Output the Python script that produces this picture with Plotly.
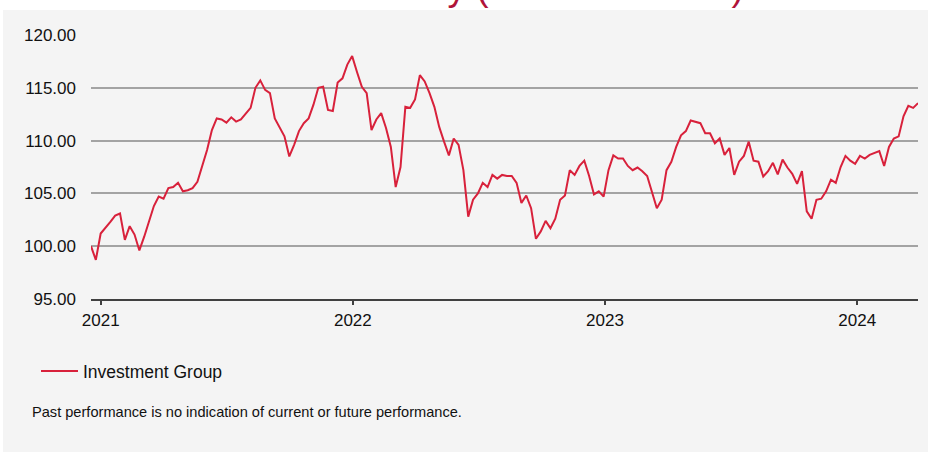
import plotly.graph_objects as go
import pandas as pd

# ---------------- data ----------------
start_date = "2020-12-18"
values = [
    100.0, 98.7, 101.2, 101.7, 102.3, 102.9, 103.1, 100.6, 101.9, 101.1,
    99.6, 100.9, 102.3, 103.8, 104.7, 104.5, 105.5, 105.6, 106.0, 105.2,
    105.3, 105.5, 106.1, 107.5, 109.1, 111.0, 112.1, 112.0, 111.7, 112.2,
    111.8, 112.0, 112.5, 113.1, 115.0, 115.7, 114.8, 114.5, 112.1, 111.2,
    110.4, 108.5, 109.6, 110.9,
    111.65, 112.1, 113.4, 115.0, 115.1, 112.9, 112.8, 115.5, 115.9, 117.2,
    118.0, 116.5, 115.1, 114.5, 111.0, 112.0, 112.6, 111.2, 109.4, 105.6,
    107.5, 113.2, 113.1, 113.9, 116.2, 115.6, 114.5, 113.2, 111.3, 109.9,
    108.6, 110.2, 109.6, 107.2, 102.8, 104.4, 105.0, 106.0, 105.6, 106.75,
    106.4, 106.75,
    106.65, 106.65, 106.0, 104.1, 104.8, 103.6, 100.7, 101.4, 102.4, 101.7,
    102.6, 104.4, 104.8, 107.2, 106.75, 107.6, 108.1, 106.65, 104.9, 105.2,
    104.7, 107.2, 108.6, 108.3, 108.3, 107.6, 107.2, 107.45, 107.1, 106.65,
    105.0, 103.6, 104.4, 107.2, 108.0, 109.4, 110.5, 110.9, 111.9, 111.8,
    111.65, 110.7, 110.7, 109.75,
    110.2, 108.65, 109.3, 106.75, 108.0, 108.55, 109.9, 108.1, 108.0, 106.6,
    107.1, 107.9, 106.8, 108.2, 107.45, 106.85, 105.9, 107.1, 103.3, 102.6,
    104.4, 104.5, 105.2, 106.3, 106.0, 107.5, 108.55, 108.1, 107.8, 108.55,
    108.3, 108.65, 108.8, 109.0, 107.6, 109.4, 110.2, 110.4, 112.3, 113.3,
    113.1, 113.55,
]
dates = pd.date_range(start=start_date, periods=len(values), freq="7D")

x_tick_dates = ["2021-01-01", "2022-01-01", "2023-01-01", "2024-01-01"]
x_tick_labels = ["2021", "2022", "2023", "2024"]
y_tick_values = [95, 100, 105, 110, 115, 120]
y_tick_labels = ["95.00", "100.00", "105.00", "110.00", "115.00", "120.00"]

series_name = "Investment Group"
title_text = "Performance history (indexed to 100)"
footnote_text = "Past performance is no indication of current or future performance."

# ---------------- layout geometry ----------------
W, H = 934, 452
L, R, T, B = 91, 16, 35, 153
PW, PH = W - L - R, H - T - B


def px_x(px):
    return (px - L) / PW


def px_y(py):
    return (H - B - py) / PH


FONT = "Liberation Sans, Arial, sans-serif"
LINE_RED = "#d8213b"
TITLE_RED = "#b0143a"
BG_GRAY = "#f4f4f4"

fig = go.Figure()
fig.add_trace(go.Scatter(
    x=dates, y=values, mode="lines", name=series_name,
    line=dict(color=LINE_RED, width=2),
))

fig.update_layout(
    width=W, height=H,
    margin=dict(l=L, r=R, t=T, b=B, pad=0),
    paper_bgcolor="white",
    plot_bgcolor="rgba(0,0,0,0)",
    font=dict(family=FONT, size=17, color="#111111"),
    showlegend=True,
    legend=dict(
        x=px_x(36), y=px_y(371), xanchor="left", yanchor="middle",
        font=dict(size=17.5, color="#111111"),
        bgcolor="rgba(0,0,0,0)", borderwidth=0, itemwidth=37,
    ),
    xaxis=dict(
        type="date",
        range=[dates[0], dates[-1]],
        tickvals=x_tick_dates, ticktext=x_tick_labels,
        ticks="outside", ticklen=4, tickwidth=1.5, tickcolor="#404040",
        showline=True, linecolor="#404040", linewidth=2,
        showgrid=False, zeroline=False,
        tickfont=dict(size=17, color="#111111"),
        ticklabelstandoff=1,
    ),
    yaxis=dict(
        range=[95, 120],
        tickvals=y_tick_values, ticktext=y_tick_labels,
        showgrid=True, gridcolor="#a3a3a3", gridwidth=2,
        showline=False, zeroline=False, ticks="",
        tickfont=dict(size=17, color="#111111"),
        ticklabelstandoff=14,
    ),
    shapes=[dict(
        type="rect", xref="paper", yref="paper", layer="below",
        x0=px_x(3), x1=px_x(928), y0=px_y(453), y1=px_y(10),
        fillcolor=BG_GRAY, line=dict(width=0),
    )],
    annotations=[
        dict(
            text=title_text, xref="paper", yref="paper",
            x=px_x(746), y=px_y(10), xanchor="right", yanchor="bottom",
            showarrow=False, font=dict(size=37, color=TITLE_RED, family=FONT),
        ),
        dict(
            text=footnote_text, xref="paper", yref="paper",
            x=px_x(30), y=px_y(412), xanchor="left", yanchor="middle",
            showarrow=False, font=dict(size=14.6, color="#111111", family=FONT),
        ),
    ],
)

fig.write_html(
    "out.html",
    config={"displayModeBar": False},
    post_script="document.body.style.margin='0';document.body.style.overflow='hidden';",
)
